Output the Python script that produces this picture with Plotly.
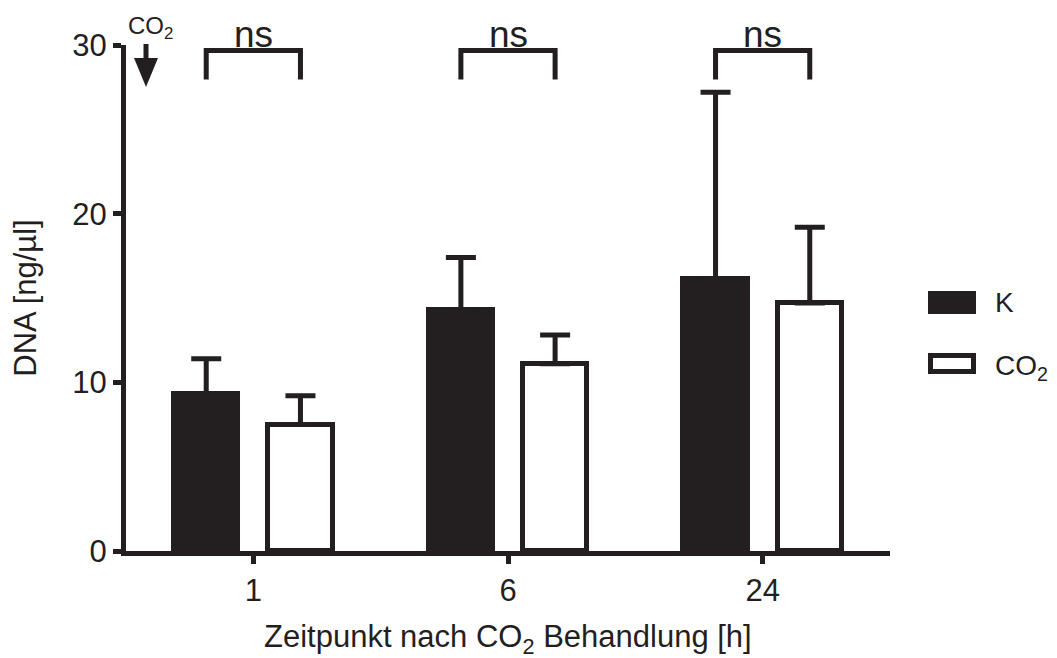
import plotly.graph_objects as go

categories = ["1", "6", "24"]
k_values = [9.3, 14.3, 16.1]
k_err = [2.1, 3.1, 11.1]
co2_values = [7.5, 11.1, 14.7]
co2_err = [1.7, 1.7, 4.5]
series_names = ["K", "CO<sub>2</sub>"]
sig_labels = ["ns", "ns", "ns"]
y_ticks = [0, 10, 20, 30]
x_title = "Zeitpunkt nach CO<sub>2</sub> Behandlung [h]"
y_title = "DNA [ng/µl]"

INK = "#231f20"
FONT = "Liberation Sans, Arial, sans-serif"
FS_TICK = 31
FS_TITLE = 31
FS_NS = 37

L, R, T, B = 126, 167, 45, 107
W, H = 1057, 658
PW, PH = W - L - R, H - T - B

def px(x):
    return (x - L) / PW

def py(y):
    return (H - B - y) / PH

xs = list(range(len(categories)))
off = 0.185
bw = 0.252

fig = go.Figure()
fig.add_trace(go.Bar(
    x=[i - off for i in xs], y=k_values, width=bw, name=series_names[0],
    marker=dict(color=INK, line=dict(color=INK, width=5)),
    error_y=dict(type="data", array=k_err, arrayminus=[0] * 3, symmetric=False,
                 color=INK, thickness=5, width=15),
))
fig.add_trace(go.Bar(
    x=[i + off for i in xs], y=co2_values, width=bw, name=series_names[1],
    marker=dict(color="white", line=dict(color=INK, width=5)),
    error_y=dict(type="data", array=co2_err, arrayminus=[0] * 3, symmetric=False,
                 color=INK, thickness=5, width=15),
))

# significance brackets
top, leg = 29.67, 27.95
for i, lab in zip(xs, sig_labels):
    fig.add_shape(type="path",
                  path=f"M {i-off},{leg} L {i-off},{top} L {i+off},{top} L {i+off},{leg}",
                  xref="x", yref="y", line=dict(color=INK, width=5))
    fig.add_annotation(x=i, y=top, xref="x", yref="y", text=lab, showarrow=False,
                       yanchor="bottom", yshift=-6, font=dict(family=FONT, size=FS_NS, color=INK))

# CO2 arrow in the corner
fig.add_shape(type="rect", xref="paper", yref="paper",
              x0=px(143.5), x1=px(148.5), y0=py(59), y1=py(44),
              fillcolor=INK, line=dict(width=0))
fig.add_shape(type="path", xref="paper", yref="paper",
              path=f"M {px(134)},{py(58)} L {px(158)},{py(58)} L {px(146)},{py(87)} Z",
              fillcolor=INK, line=dict(width=0))
fig.add_annotation(x=px(150), y=py(45), xref="paper", yref="paper", text="CO<sub>2</sub>",
                   showarrow=False, yanchor="bottom", xanchor="center",
                   font=dict(family=FONT, size=24, color=INK))

# legend
fig.add_shape(type="rect", xref="paper", yref="paper",
              x0=px(928), x1=px(976), y0=py(314), y1=py(291),
              fillcolor=INK, line=dict(width=0))
fig.add_shape(type="rect", xref="paper", yref="paper",
              x0=px(930.5), x1=px(973.5), y0=py(371.5), y1=py(355.5),
              fillcolor="white", line=dict(color=INK, width=5))
fig.add_annotation(x=px(993), y=py(303), xref="paper", yref="paper", text=series_names[0],
                   showarrow=False, xanchor="left", yanchor="middle",
                   font=dict(family=FONT, size=28, color=INK))
fig.add_annotation(x=px(993), y=py(367), xref="paper", yref="paper", text=series_names[1],
                   showarrow=False, xanchor="left", yanchor="middle",
                   font=dict(family=FONT, size=28, color=INK))

# x-axis title as annotation for exact placement
fig.add_annotation(x=0.5, y=py(639), xref="paper", yref="paper", text=x_title,
                   showarrow=False, xanchor="center", yanchor="middle",
                   font=dict(family=FONT, size=FS_TITLE, color=INK))

fig.update_layout(
    width=W, height=H, margin=dict(l=L, r=R, t=T, b=B, pad=0),
    plot_bgcolor="white", paper_bgcolor="white", showlegend=False,
    barmode="overlay", bargap=0,
    font=dict(family=FONT, size=FS_TICK, color=INK),
    xaxis=dict(range=[-0.5, 2.5], tickvals=xs, ticktext=categories, automargin=False,
               showline=True, linecolor=INK, linewidth=5, showgrid=False, zeroline=False,
               ticks="outside", ticklen=8, tickwidth=5, tickcolor=INK,
               tickfont=dict(size=FS_TICK)),
    yaxis=dict(range=[0, 30], tickvals=y_ticks, automargin=False,
               showline=True, linecolor=INK, linewidth=5, showgrid=False, zeroline=False,
               ticks="outside", ticklen=8, tickwidth=5, tickcolor=INK,
               tickfont=dict(size=FS_TICK),
               title=dict(text=y_title, standoff=28, font=dict(size=FS_TITLE))),
)

fig.write_html("out.html")
